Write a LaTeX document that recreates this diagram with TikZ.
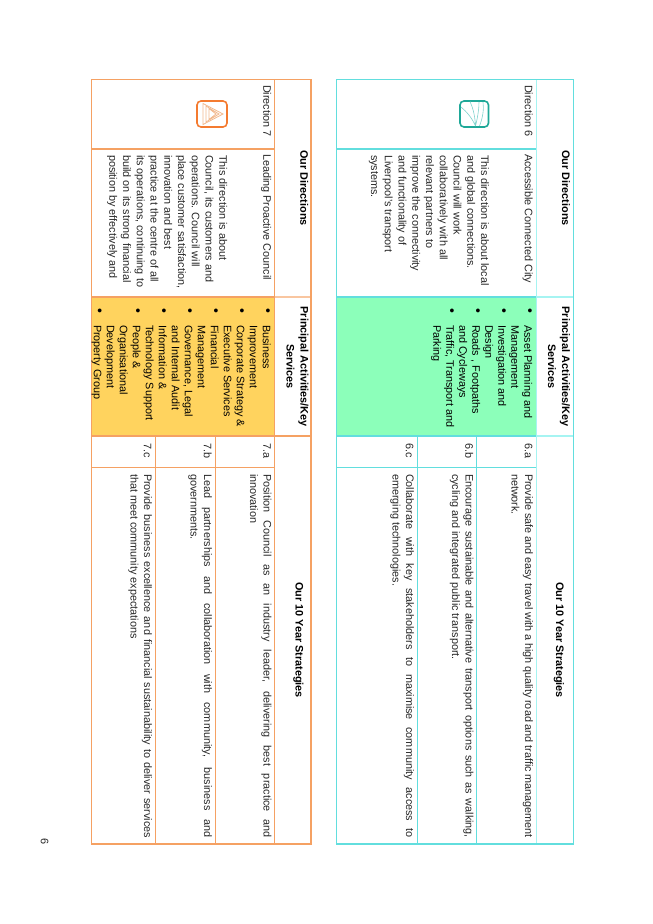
\documentclass[tikz,border=0pt]{standalone}
\usepackage{fontspec}
\setmainfont{Liberation Sans}
\definecolor{cyanline}{HTML}{62DEDE}
\definecolor{cyanlight}{HTML}{A6F4F2}
\definecolor{greenfill}{HTML}{8CFFBA}
\definecolor{orgline}{HTML}{F5A163}
\definecolor{orglight}{HTML}{F9C6A0}
\definecolor{orgfill}{HTML}{FFD35E}
\definecolor{tealicon}{HTML}{1FA898}
\definecolor{tealthin}{HTML}{7FD2CC}
\definecolor{orgicon}{HTML}{F47B30}
\definecolor{orgthin}{HTML}{F2B98E}
\definecolor{bodytext}{HTML}{262626}
\newcommand{\bodyfont}{\fontsize{10.85}{13.75}\selectfont\color{bodytext}}
\newcommand{\listfont}{\fontsize{10.85}{13}\selectfont\color{black}}
\newcommand{\stratfont}{\fontsize{10.85}{13.5}\selectfont\color{bodytext}}
\newcommand{\headfont}{\fontsize{10.85}{13.8}\selectfont\bfseries\color{black}}
\tikzset{
  x=1pt,y=-1pt,
  celltext/.style={anchor=north west,rotate=-90,inner sep=0pt,outer sep=0pt,align=left,font=\bodyfont},
  listtext/.style={celltext,font=\listfont},
  strattext/.style={anchor=north west,rotate=-90,inner sep=0pt,outer sep=0pt,text width=364pt,align=justify,font=\stratfont},
  bulletdot/.style={anchor=center,rotate=-90,inner sep=0pt,font=\fontsize{14}{14}\selectfont\color{black}},
  headtext/.style={anchor=center,rotate=-90,inner sep=0pt,align=center,font=\headfont},
  icon/.style={line width=1.6pt,rounded corners=4pt}
}
\begin{document}
\begin{tikzpicture}
\useasboundingbox (0,0) rectangle (653,924);
% ---------- upper table (Direction 6) ----------
\fill[greenfill] (336.5,297) rectangle (536,436);
\draw[cyanlight,line width=1.2pt] (536.5,79.5) -- (536.5,844);
\draw[cyanlight,line width=1.2pt] (536.5,297) -- (573.5,297);
\draw[cyanlight,line width=1.2pt] (536.5,436) -- (573.5,436);
\draw[cyanline,line width=1.5pt] (336.5,149) -- (536,149);
\draw[cyanline,line width=1.5pt] (336.5,297) -- (536,297);
\draw[cyanline,line width=1.2pt] (336.5,436) -- (536,436);
\draw[cyanline,line width=1.5pt] (336.5,467.7) -- (536,467.7);
\draw[cyanline,line width=1.2pt] (476.7,436) -- (476.7,844);
\draw[cyanline,line width=1.2pt] (417.3,436) -- (417.3,844);
\draw[cyanline,line width=1.2pt] (336.5,79.5) rectangle (573.5,844);
% ---------- lower table (Direction 7) ----------
\fill[orgfill] (91.5,297) rectangle (274.3,436);
\draw[orglight,line width=1.2pt] (274.3,297) -- (311,297);
\draw[orgline,line width=1.2pt] (274.3,436) -- (311,436);
\draw[orgline,line width=1.5pt] (274.3,79.5) -- (274.3,844);
\draw[orgline,line width=1.5pt] (91.5,149) -- (274.3,149);
\draw[orgline,line width=1.5pt] (91.5,297) -- (274.3,297);
\draw[orgline,line width=1.2pt] (91.5,436) -- (274.3,436);
\draw[orgline,line width=1.5pt] (91.5,467.7) -- (274.3,467.7);
\draw[orgline,line width=1.2pt] (215.3,436) -- (215.3,844);
\draw[orgline,line width=1.2pt] (155.3,436) -- (155.3,844);
\draw[orgline,line width=1.2pt] (91.5,79.5) rectangle (311,844);
% ---------- icons ----------
\draw[tealicon,icon] (460,101) rectangle (488.5,127);
\draw[tealthin,line width=.6pt]
  (475.5,126) .. controls (475,116) and (473,108) .. (470,101.5)
  (475.5,126) .. controls (478,116) and (479,108) .. (479,102)
  (475.5,126) .. controls (472,118) and (467,112) .. (461,107)
  (479.5,126) .. controls (483,117) and (484,109) .. (483,102);
\draw[orgicon,icon] (197,101) rectangle (227,127);
\draw[orgthin,line width=.8pt,line join=miter,fill=white]
  (203,103.5) -- (223,114) -- (203,124.5) -- cycle;
\draw[orgthin,line width=.8pt]
  (206,106) -- (219,114) -- (206,122) -- cycle
  (209,108.5) -- (216,114) -- (209,119.5) -- cycle;
% ---------- upper table text ----------
\node[headtext] (ha) at (566,188) {Our Directions};
\node[headtext] (hb) at (559,366.7) {Principal Activities/Key\\Services};
\node[headtext] (hc) at (559,640) {Our 10 Year Strategies};
\node[celltext] (da) at (534.5,85) {\strut Direction 6};
\node[celltext] (db) at (534.5,154) {\strut Accessible Connected City};
\node[celltext] (dc) at (490.7,155) {\strut This direction is about local\\and global connections.\\Council will work\\collaboratively with all\\relevant partners to\\improve the connectivity\\and functionality of\\Liverpool's transport\\systems.};
\node[bulletdot] (b1) at (528.7,310.7) {\textbullet};
\node[bulletdot] (b2) at (502.7,310.7) {\textbullet};
\node[bulletdot] (b3) at (476.7,310.7) {\textbullet};
\node[bulletdot] (b4) at (450.7,310.7) {\textbullet};
\node[listtext] (la) at (533.5,325) {\strut Asset Planning and\\Management\\Investigation and\\Design\\Roads , Footpaths\\and Cycleways\\Traffic, Transport and\\Parking};
\node[celltext] (na) at (534.5,443) {\strut 6.a};
\node[celltext] (nb) at (475,443) {\strut 6.b};
\node[celltext] (nc) at (415.5,443) {\strut 6.c};
\node[strattext] (sa) at (534.5,474) {\strut Provide safe and easy travel with a high quality road and traffic management\linebreak network.};
\node[strattext] (sb) at (475,474) {\strut Encourage sustainable and alternative transport options such as walking,\linebreak cycling and integrated public transport.};
\node[strattext] (sc) at (415.5,474) {\strut Collaborate with key stakeholders to maximise community access to\linebreak emerging technologies.};
% ---------- lower table text ----------
\node[headtext] (hd) at (304.3,188) {Our Directions};
\node[headtext] (he) at (297.5,366.7) {Principal Activities/Key\\Services};
\node[headtext] (hf) at (298.3,640) {Our 10 Year Strategies};
\node[celltext] (ea) at (273,85) {\strut Direction 7};
\node[celltext] (eb) at (273,154) {\strut Leading Proactive Council};
\node[celltext] (ec) at (229,155) {\strut This direction is about\\Council, its customers and\\operations. Council will\\place customer satisfaction,\\innovation and best\\practice at the centre of all\\its operations, continuing to\\build on its strong financial\\position by effectively and};
\node[bulletdot] (c1) at (266.7,310.7) {\textbullet};
\node[bulletdot] (c2) at (240.7,310.7) {\textbullet};
\node[bulletdot] (c3) at (214.7,310.7) {\textbullet};
\node[bulletdot] (c4) at (188.7,310.7) {\textbullet};
\node[bulletdot] (c5) at (162.7,310.7) {\textbullet};
\node[bulletdot] (c6) at (136.7,310.7) {\textbullet};
\node[bulletdot] (c7) at (98.3,310.7) {\textbullet};
\node[listtext] (ma) at (272,325) {\strut Business\\Improvement\\Corporate Strategy \&\\Executive Services\\Financial\\Management\\Governance, Legal\\and Internal Audit\\Information \&\\Technology Support\\People \&\\Organisational\\Development\\Property Group};
\node[celltext] (oa) at (273,443) {\strut 7.a};
\node[celltext] (ob) at (213.5,443) {\strut 7.b};
\node[celltext] (oc) at (153.5,443) {\strut 7.c};
\node[strattext] (ta) at (273,474) {\strut Position Council as an industry leader, delivering best practice and\linebreak innovation};
\node[strattext] (tb) at (213.5,474) {\strut Lead partnerships and collaboration with community, business and\linebreak governments.};
\node[strattext] (tc) at (153.5,474) {\strut Provide business excellence and financial sustainability to deliver services\linebreak that meet community expectations};
% ---------- page number ----------
\node[headtext,font=\fontsize{10.85}{13}\selectfont\color{bodytext}] (pg) at (44.5,842) {6};
\end{tikzpicture}
\end{document}
